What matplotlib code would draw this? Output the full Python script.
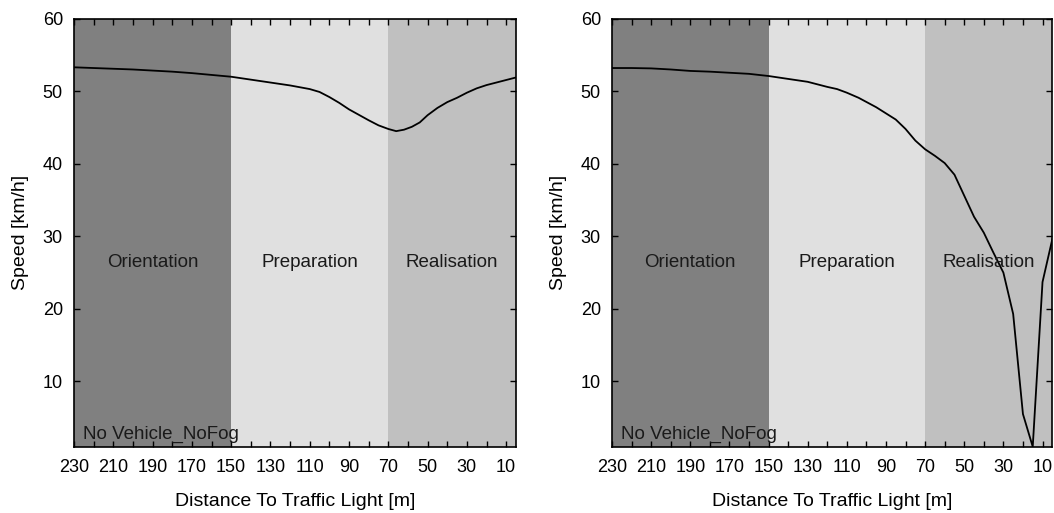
import matplotlib
matplotlib.use("Agg")
import matplotlib.pyplot as plt

# distance to traffic light [m] and mean speed [km/h]
dist_left = [230, 220, 210, 200, 190, 180, 170, 160, 150, 140, 130, 120, 110,
             105, 100, 95, 90, 80, 75, 70, 66, 62, 58, 54, 50, 45, 40, 35, 30,
             25, 20, 15, 10, 5]
speed_left = [53.3, 53.2, 53.1, 53.0, 52.85, 52.7, 52.5, 52.25, 52.0, 51.6,
              51.2, 50.8, 50.3, 49.9, 49.2, 48.4, 47.5, 46.0, 45.3, 44.8,
              44.5, 44.7, 45.1, 45.7, 46.7, 47.7, 48.5, 49.1, 49.8, 50.4,
              50.85, 51.2, 51.55, 51.9]

dist_right = [230, 220, 210, 200, 190, 180, 170, 160, 150, 140, 130, 120, 115,
              110, 104, 95, 85, 80, 75, 70, 65, 60, 55, 50, 45, 40, 35, 30,
              25, 20, 15, 10, 5]
speed_right = [53.2, 53.2, 53.15, 53.0, 52.8, 52.7, 52.55, 52.4, 52.1, 51.7,
               51.3, 50.6, 50.3, 49.8, 49.1, 47.8, 46.1, 44.8, 43.2, 42.0,
               41.1, 40.1, 38.5, 35.6, 32.7, 30.5, 27.7, 25.0, 19.3, 5.5,
               1.0, 23.7, 29.6]

phases = ["Orientation", "Preparation", "Realisation"]
phase_bounds = [(230, 150), (150, 70), (70, 5)]
phase_colors = ["#808080", "#e0e0e0", "#c0c0c0"]

condition = "No Vehicle_NoFog"
major_ticks = list(range(230, 9, -20))
minor_ticks = list(range(220, 19, -20))

plt.rcParams["font.family"] = ["Liberation Sans", "DejaVu Sans"]

fig = plt.figure(figsize=(10.54, 5.13), dpi=100)
ax_l = fig.add_axes([74 / 1054, 66.3 / 513, 442 / 1054, 428 / 513])
ax_r = fig.add_axes([612 / 1054, 66.3 / 513, 440.3 / 1054, 428 / 513])

for ax, dist, speed in [(ax_l, dist_left, speed_left), (ax_r, dist_right, speed_right)]:
    for name, (x0, x1), col in zip(phases, phase_bounds, phase_colors):
        ax.axvspan(x0, x1, color=col, lw=0, zorder=0)
        ax.text((x0 + x1) / 2, 26.4, name, ha="center", va="center",
                fontsize=13.5, color="#1a1a1a", zorder=3)
    ax.plot(dist, speed, color="black", lw=1.3, zorder=2)
    ax.text(225.6, 2.1, condition, ha="left", va="baseline",
            fontsize=13.5, color="#1a1a1a", zorder=3)

    ax.set_xlim(230, 5)
    ax.set_ylim(1, 60)
    ax.set_xticks(major_ticks)
    ax.set_xticks(minor_ticks, minor=True)
    ax.set_yticks([10, 20, 30, 40, 50, 60])
    ax.tick_params(which="both", direction="in", top=True, right=True,
                   length=4, width=1, labelsize=13, colors="black", pad=9)
    ax.tick_params(axis="y", pad=8)
    for sp in ax.spines.values():
        sp.set_linewidth(1.2)
    ax.set_xlabel("Distance To Traffic Light [m]", fontsize=14, labelpad=12)
    ax.set_ylabel("Speed [km/h]", fontsize=14, labelpad=10)

fig.savefig("out.png", dpi=100, facecolor="white")
